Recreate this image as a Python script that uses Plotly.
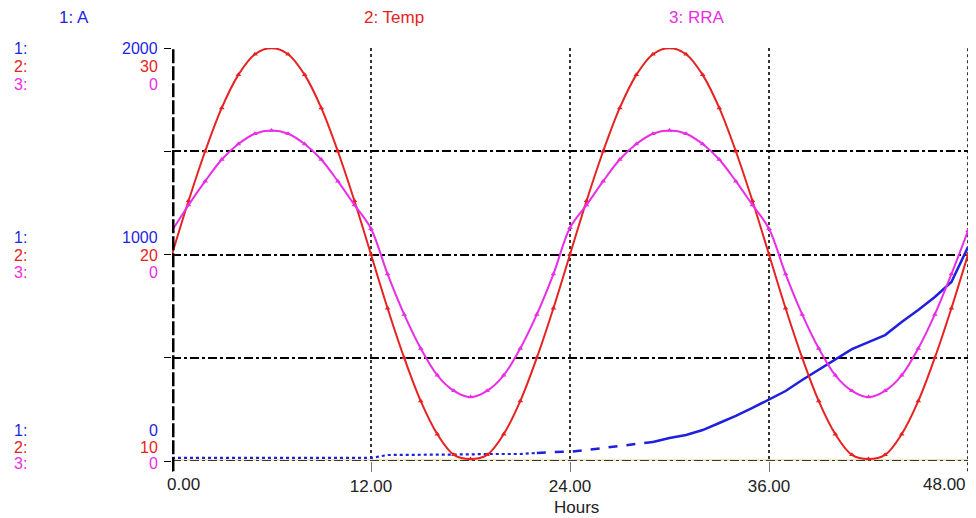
import plotly.graph_objects as go

hours = list(range(0, 49))

temp = [20, 22.6, 25, 27.1, 28.7, 29.7, 30, 29.7, 28.7, 27.1, 25, 22.6,
        20, 17.4, 15, 12.9, 11.3, 10.3, 10.1, 10.3, 11.3, 12.9, 15, 17.4,
        20, 22.6, 25, 27.1, 28.7, 29.7, 30, 29.7, 28.7, 27.1, 25, 22.6,
        20, 17.4, 15, 12.9, 11.3, 10.3, 10.1, 10.3, 11.3, 12.9, 15, 17.4,
        20]

rra = [0.223, 0.248, 0.271, 0.292, 0.307, 0.317, 0.320, 0.317, 0.307, 0.292, 0.271, 0.248,
       0.225, 0.181, 0.142, 0.109, 0.083, 0.068, 0.062, 0.068, 0.083, 0.109, 0.142, 0.181,
       0.226, 0.248, 0.271, 0.292, 0.307, 0.317, 0.320, 0.317, 0.307, 0.292, 0.271, 0.248,
       0.225, 0.181, 0.142, 0.109, 0.083, 0.068, 0.062, 0.068, 0.083, 0.109, 0.142, 0.181,
       0.223]

a_vals = [15, 15, 15, 15, 15, 15, 15, 15, 15, 15, 15, 15,
          15, 29, 29, 29, 29, 29, 32, 34, 34, 34, 39, 44,
          45, 53, 63, 73, 82, 92, 111, 126, 150, 184, 218, 257,
          300, 339, 392, 441, 494, 542, 576, 610, 673, 731, 794, 867,
          1036]

x_ticks = [0, 12, 24, 36, 48]
x_tick_text = ["0.00", "12.00", "24.00", "36.00", "48.00"]
a_ticks = [0, 500, 1000, 1500, 2000]

BLUE = "#1f1fe0"
RED = "#e62222"
MAG = "#ea2de6"
FONT = "Liberation Sans, Arial, sans-serif"
FS = 17

fig = go.Figure()

# A in three segments to mimic the changing dash appearance
seg = [(0, 22, "dot", 2.2), (22, 29, "dash", 2.5), (29, 48, "solid", 2.5)]
for s, e, d, w in seg:
    fig.add_trace(go.Scatter(x=hours[s:e + 1], y=a_vals[s:e + 1], mode="lines",
                             line=dict(color=BLUE, width=w, dash=d),
                             yaxis="y", showlegend=False, hoverinfo="skip"))

fig.add_trace(go.Scatter(x=hours, y=rra, mode="lines+markers",
                         line=dict(color=MAG, width=2, shape="spline"),
                         marker=dict(symbol="triangle-up", size=5, color=MAG),
                         yaxis="y3", showlegend=False))
fig.add_trace(go.Scatter(x=hours, y=temp, mode="lines+markers",
                         line=dict(color=RED, width=2, shape="spline"),
                         marker=dict(symbol="triangle-up", size=5, color=RED),
                         yaxis="y2", showlegend=False))

mid_text = ["" if i in (0, len(x_ticks) - 1) else t for i, t in enumerate(x_tick_text)]

# the page has an 8px body margin; plot area lands at page x 172..968, y 48..461
fig.update_layout(
    width=960, height=510,
    margin=dict(l=164, r=0, t=40, b=57),
    paper_bgcolor="white", plot_bgcolor="white",
    font=dict(family=FONT, size=FS, color="#222"),
    xaxis=dict(range=[0, 48], tickvals=x_ticks, ticktext=mid_text, automargin=False,
               showgrid=True, gridcolor="#333", griddash="dot", gridwidth=1.5,
               zeroline=False, showline=False, ticks="outside", ticklen=10,
               tickcolor="#777", tickwidth=1,
               tickfont=dict(size=FS, family=FONT, color="#222")),
    yaxis=dict(range=[0, 2000], tickvals=a_ticks, showticklabels=False, automargin=False,
               showgrid=True, gridcolor="black", griddash="dashdot", gridwidth=1.5,
               zeroline=False, showline=False, ticks="outside", ticklen=7,
               tickcolor="black"),
    yaxis2=dict(range=[10, 30], overlaying="y", visible=False),
    yaxis3=dict(range=[0, 0.4], overlaying="y", visible=False),
)

fig.add_shape(type="line", xref="x", yref="y", x0=0, x1=48, y0=0, y1=0,
              line=dict(color="#ece6b8", width=4), layer="below")
fig.add_shape(type="line", xref="x", yref="y", x0=0, x1=48, y0=0, y1=0,
              line=dict(color="black", width=1.5, dash="dashdot"), layer="below")
fig.add_shape(type="line", xref="x", yref="paper", x0=48, x1=48, y0=-0.025, y1=1,
              line=dict(color="#333", width=2, dash="dot"), layer="below")
fig.add_shape(type="line", xref="x", yref="paper", x0=0, x1=0, y0=-0.025, y1=1,
              line=dict(color="black", width=5, dash="14px,3px"), layer="above")

anns = []
anns.append(dict(text=x_tick_text[0], x=x_ticks[0], xref="x", xshift=11, y=0, yref="paper",
                 yshift=-23, xanchor="center", yanchor="middle", showarrow=False,
                 font=dict(size=FS, family=FONT, color="#222")))
anns.append(dict(text=x_tick_text[-1], x=x_ticks[-1], xref="x", xshift=0, y=0, yref="paper",
                 yshift=-23, xanchor="right", yanchor="middle", showarrow=False,
                 font=dict(size=FS, family=FONT, color="#222")))
# axis title
anns.append(dict(text="Hours", x=0, xref="paper", xshift=404, y=0, yref="paper",
                 yshift=-46, xanchor="center", yanchor="middle", showarrow=False,
                 font=dict(size=FS, family=FONT, color="#222")))

for txt, xp, col in [("1: A", 57, BLUE), ("2: Temp", 362, RED), ("3: RRA", 667, MAG)]:
    anns.append(dict(text=txt, x=0, xref="paper", xshift=xp - 172, y=1, yref="paper",
                     yshift=31, xanchor="left", yanchor="middle", showarrow=False,
                     font=dict(color=col, size=FS, family=FONT)))

groups = [
    (2000, [("2000", BLUE, 0), ("30", RED, -18), ("0", MAG, -36)]),
    (1000, [("1000", BLUE, 17), ("20", RED, -1), ("0", MAG, -18)]),
    (0, [("0", BLUE, 31), ("10", RED, 14), ("0", MAG, -2)]),
]
series_tags = [("1:", BLUE), ("2:", RED), ("3:", MAG)]
for yv, items in groups:
    for i, (txt, col, dy) in enumerate(items):
        anns.append(dict(text=txt, x=0, xref="paper", y=yv, yref="y", xshift=-12, yshift=dy,
                         xanchor="right", yanchor="middle", showarrow=False, height=15,
                         font=dict(color=col, size=16, family=FONT)))
        tag, tcol = series_tags[i]
        anns.append(dict(text=tag, x=0, xref="paper", y=yv, yref="y", xshift=-160, yshift=dy,
                         xanchor="left", yanchor="middle", showarrow=False, height=15,
                         font=dict(color=tcol, size=16, family=FONT)))

fig.update_layout(annotations=anns)
fig.write_html("out.html")
